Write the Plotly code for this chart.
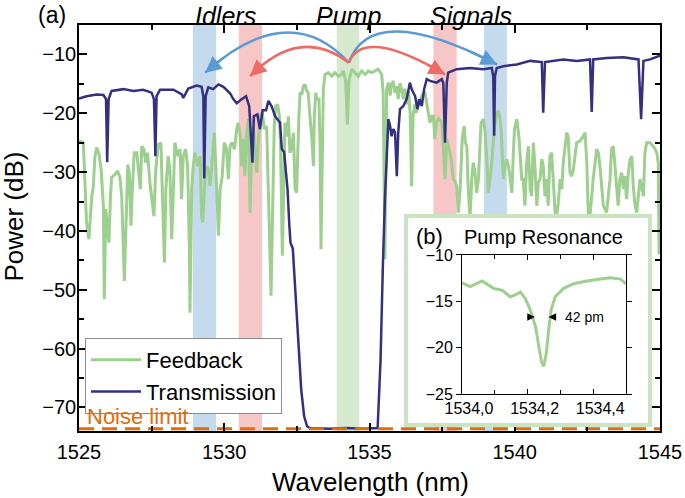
import plotly.graph_objects as go

# ---- (a) feedback spectrum ----
feedback_wl = [
    1525.00, 1525.15, 1525.26, 1525.34, 1525.44, 1525.49, 1525.55, 1525.61, 1525.69, 1525.76,
    1525.84, 1525.87, 1525.92, 1525.99, 1526.03, 1526.08, 1526.12, 1526.24, 1526.33, 1526.41,
    1526.47, 1526.56, 1526.61, 1526.68, 1526.73, 1526.79, 1526.84, 1526.90, 1526.99, 1527.04,
    1527.11, 1527.16, 1527.23, 1527.30, 1527.36, 1527.44, 1527.52, 1527.58, 1527.64, 1527.73,
    1527.82, 1527.88, 1527.94, 1527.99, 1528.07, 1528.13, 1528.19, 1528.25, 1528.30, 1528.40,
    1528.48, 1528.53, 1528.59, 1528.67, 1528.74, 1528.80, 1528.82, 1528.88, 1528.93, 1528.99,
    1529.09, 1529.17, 1529.22, 1529.26, 1529.31, 1529.36, 1529.45, 1529.51, 1529.57, 1529.66,
    1529.74, 1529.80, 1529.86, 1529.93, 1530.00, 1530.08, 1530.14, 1530.20, 1530.26, 1530.35,
    1530.43, 1530.48, 1530.54, 1530.60, 1530.66, 1530.71, 1530.77, 1530.83, 1530.89, 1530.94,
    1531.00, 1531.06, 1531.12, 1531.17, 1531.23, 1531.31, 1531.38, 1531.46, 1531.52, 1531.57,
    1531.61, 1531.65, 1531.72, 1531.77, 1531.84, 1531.90, 1531.94, 1532.00, 1532.05, 1532.09,
    1532.15, 1532.21, 1532.26, 1532.32, 1532.38, 1532.44, 1532.49, 1532.53, 1532.57, 1532.61,
    1532.67, 1532.72, 1532.78, 1532.84, 1532.89, 1532.95, 1533.01, 1533.07, 1533.10, 1533.15,
    1533.19, 1533.26, 1533.30, 1533.33, 1533.38, 1533.41, 1533.47, 1533.58, 1533.70, 1533.81,
    1533.93, 1534.04, 1534.10, 1534.18, 1534.24, 1534.29, 1534.39, 1534.50, 1534.61, 1534.73,
    1534.85, 1534.96, 1535.08, 1535.19, 1535.30, 1535.42, 1535.47, 1535.50, 1535.53, 1535.56,
    1535.59, 1535.65, 1535.71, 1535.76, 1535.82, 1535.88, 1535.94, 1535.99, 1536.05, 1536.11,
    1536.16, 1536.22, 1536.28, 1536.34, 1536.40, 1536.45, 1536.50, 1536.56, 1536.62, 1536.68,
    1536.74, 1536.80, 1536.86, 1536.91, 1536.97, 1537.02, 1537.08, 1537.14, 1537.20, 1537.25,
    1537.31, 1537.37, 1537.43, 1537.49, 1537.54, 1537.60, 1537.66, 1537.72, 1537.77, 1537.83,
    1537.88, 1537.94, 1538.00, 1538.06, 1538.12, 1538.19, 1538.26, 1538.30, 1538.35, 1538.40,
    1538.46, 1538.52, 1538.57, 1538.63, 1538.69, 1538.75, 1538.80, 1538.84, 1538.92, 1538.98,
    1539.04, 1539.09, 1539.15, 1539.21, 1539.26, 1539.30, 1539.38, 1539.43, 1539.48, 1539.53,
    1539.61, 1539.66, 1539.72, 1539.78, 1539.84, 1539.90, 1539.95, 1539.99, 1540.07, 1540.15,
    1540.24, 1540.29, 1540.35, 1540.41, 1540.47, 1540.53, 1540.58, 1540.64, 1540.70, 1540.76,
    1540.81, 1540.87, 1540.93, 1540.98, 1541.04, 1541.10, 1541.15, 1541.21, 1541.27, 1541.33,
    1541.39, 1541.44, 1541.50, 1541.56, 1541.62, 1541.67, 1541.73, 1541.79, 1541.84, 1541.90,
    1541.96, 1542.02, 1542.13, 1542.25, 1542.36, 1542.42, 1542.48, 1542.53, 1542.59, 1542.70,
    1542.82, 1542.88, 1542.93, 1542.99, 1543.05, 1543.16, 1543.28, 1543.33, 1543.39, 1543.45,
    1543.51, 1543.56, 1543.62, 1543.68, 1543.74, 1543.79, 1543.85, 1543.91, 1543.97, 1544.03,
    1544.08, 1544.14, 1544.20, 1544.31, 1544.43, 1544.48, 1544.54, 1544.66, 1544.71, 1544.77,
    1544.83, 1544.89, 1544.94, 1544.97, 1545.00,
]
feedback_db = [
    -24.7, -25.0, -38.6, -41.4, -34.1, -32.6, -27.3, -25.8, -27.0, -29.5,
    -35.8, -51.6, -36.3, -39.7, -42.0, -34.6, -30.9, -30.4, -29.8, -30.9,
    -34.1, -48.5, -41.4, -28.7, -30.1, -39.1, -32.4, -26.7, -26.7, -29.0,
    -32.9, -25.6, -26.1, -28.4, -26.7, -31.8, -35.2, -37.5, -29.8, -25.3,
    -25.0, -35.8, -45.4, -32.9, -27.3, -29.8, -41.4, -32.9, -25.0, -27.3,
    -26.1, -34.6, -27.3, -26.1, -29.0, -43.1, -53.9, -32.9, -29.0, -26.7,
    -29.0, -27.3, -37.5, -38.5, -32.9, -29.0, -29.5, -32.4, -29.0, -23.3,
    -32.9, -40.8, -32.9, -30.7, -25.0, -26.1, -31.2, -25.6, -25.0, -26.1,
    -22.7, -21.6, -23.3, -29.0, -24.4, -30.7, -23.3, -21.0, -36.9, -26.1,
    -22.2, -26.7, -30.1, -25.0, -20.5, -19.9, -22.7, -22.2, -31.8, -43.1,
    -51.0, -37.5, -22.2, -18.8, -18.5, -20.5, -26.1, -44.2, -29.0, -21.6,
    -23.9, -20.5, -26.7, -26.1, -23.3, -32.9, -33.5, -26.1, -20.5, -16.5,
    -16.8, -15.4, -15.1, -16.2, -16.5, -20.5, -23.9, -29.0, -20.5, -16.5,
    -17.6, -17.6, -26.1, -43.1, -26.1, -15.9, -13.4, -13.1, -13.7, -13.1,
    -13.7, -13.4, -12.8, -14.5, -21.9, -14.5, -12.5, -13.1, -13.7, -12.8,
    -13.4, -12.8, -13.1, -12.8, -12.5, -13.4, -16.5, -30.0, -44.8, -30.0,
    -16.0, -14.8, -17.0, -15.0, -14.5, -16.5, -15.4, -17.6, -14.9, -16.0,
    -17.6, -15.8, -18.5, -16.2, -20.0, -32.4, -20.5, -18.5, -19.9, -18.0,
    -18.2, -17.0, -16.5, -16.5, -18.5, -19.3, -21.6, -20.5, -20.5, -24.4,
    -21.5, -20.9, -21.2, -21.5, -25.6, -31.2, -24.4, -25.5, -26.7, -28.5,
    -31.2, -31.5, -32.4, -36.9, -32.9, -24.4, -22.2, -25.0, -25.6, -32.9,
    -38.0, -31.2, -28.4, -30.0, -33.5, -31.2, -25.0, -21.6, -21.0, -23.3,
    -28.0, -33.5, -31.0, -28.4, -25.0, -22.7, -19.9, -19.6, -20.5, -22.7,
    -31.2, -29.0, -27.8, -28.9, -31.0, -33.5, -27.0, -22.7, -21.0, -24.4,
    -31.2, -31.2, -35.7, -28.4, -25.6, -32.9, -34.1, -25.0, -29.5, -35.7,
    -31.8, -31.2, -27.8, -28.9, -34.1, -31.2, -35.7, -27.3, -26.7, -31.2,
    -36.9, -37.5, -35.2, -31.2, -32.9, -28.4, -25.6, -23.3, -23.9, -30.1,
    -30.7, -29.5, -25.0, -24.7, -23.9, -23.3, -28.4, -36.9, -37.5, -31.2,
    -26.1, -26.7, -28.9, -32.9, -35.7, -36.9, -31.2, -26.1, -25.6, -28.9,
    -32.9, -35.7, -31.2, -30.1, -32.9, -30.7, -34.6, -30.1, -27.8, -27.3,
    -32.4, -35.7, -36.9, -31.2, -34.1, -26.7, -25.0, -25.0, -25.3, -25.6,
    -26.1, -26.7, -28.4, -44.0, -38.0,
]

# ---- (a) transmission spectrum ----
trans_wl = [
    1525.00, 1525.26, 1525.61, 1525.84, 1525.93, 1525.97, 1526.02, 1526.12, 1526.53, 1526.87,
    1527.21, 1527.50, 1527.58, 1527.63, 1527.67, 1527.79, 1528.25, 1528.54, 1528.59, 1528.76,
    1529.05, 1529.22, 1529.28, 1529.31, 1529.36, 1529.45, 1529.62, 1529.80, 1529.97, 1530.20,
    1530.31, 1530.43, 1530.60, 1530.75, 1530.86, 1530.97, 1531.02, 1531.14, 1531.23, 1531.32,
    1531.44, 1531.52, 1531.63, 1531.75, 1531.92, 1531.98, 1532.06, 1532.12, 1532.18, 1532.24,
    1532.28, 1532.36, 1532.46, 1532.55, 1532.65, 1532.75, 1532.85, 1532.95, 1533.60, 1534.20,
    1534.80, 1535.28, 1535.38, 1535.46, 1535.53, 1535.65, 1535.71, 1535.76, 1535.82, 1535.88,
    1535.94, 1535.99, 1536.05, 1536.16, 1536.28, 1536.39, 1536.45, 1536.57, 1536.65, 1536.72,
    1536.80, 1536.88, 1536.97, 1537.08, 1537.31, 1537.49, 1537.54, 1537.60, 1537.66, 1537.71,
    1538.00, 1538.46, 1538.92, 1539.21, 1539.26, 1539.29, 1539.32, 1539.38, 1539.61, 1540.07,
    1540.53, 1540.93, 1540.98, 1541.04, 1541.67, 1542.13, 1542.59, 1542.65, 1542.70, 1543.16,
    1543.74, 1544.26, 1544.35, 1544.43, 1544.66, 1545.00,
]
trans_db = [
    -17.5, -17.1, -16.8, -16.9, -17.6, -28.3, -17.6, -16.2, -15.9, -16.2,
    -16.0, -16.5, -17.6, -27.3, -17.1, -16.0, -16.0, -16.8, -17.4, -15.8,
    -15.3, -15.5, -17.1, -31.1, -17.1, -15.6, -15.9, -15.1, -15.5, -16.6,
    -17.6, -18.3, -17.6, -17.1, -18.8, -28.4, -20.5, -20.2, -22.7, -19.5,
    -19.5, -17.9, -18.8, -20.5, -21.6, -26.1, -26.6, -29.5, -33.0, -39.0,
    -42.0, -43.0, -51.0, -60.0, -67.0, -71.5, -73.2, -73.5, -73.6, -73.5,
    -73.6, -73.5, -62.0, -46.0, -34.6, -21.0, -22.2, -23.9, -22.7, -23.3,
    -30.7, -23.3, -19.3, -18.8, -17.6, -14.8, -15.9, -17.1, -19.3, -17.6,
    -18.8, -15.9, -14.2, -14.5, -14.8, -14.2, -14.8, -25.0, -14.8, -13.1,
    -12.5, -12.3, -12.5, -12.3, -13.7, -23.8, -13.7, -12.3, -12.0, -11.7,
    -11.1, -11.3, -19.9, -11.3, -10.85, -11.1, -10.85, -19.8, -10.85, -10.6,
    -10.5, -10.85, -21.0, -11.1, -10.85, -10.2,
]

noise_limit_db = -73.6

# wavelength windows of the shaded bands
idler_blue = (1528.92, 1529.72)
idler_red = (1530.50, 1531.30)
pump_band = (1533.87, 1534.65)
signal_red = (1537.20, 1538.00)
signal_blue = (1538.94, 1539.73)

# curved arrows: start (pump), top of the arc, end
pump_point = (1534.29, -11.4)
arc_blue_idler = ((1532.02, -6.3), (1529.34, -13.1))
arc_red_idler = ((1532.60, -8.8), (1530.89, -13.7))
arc_red_signal = ((1535.36, -8.8), (1537.60, -13.4))
arc_blue_signal = ((1535.95, -6.1), (1539.39, -11.7))

# ---- (b) pump resonance ----
inset_wl = [
    1534.000, 1534.025, 1534.061, 1534.096, 1534.122, 1534.147, 1534.163, 1534.178, 1534.193,
    1534.208, 1534.224, 1534.234, 1534.242, 1534.249, 1534.257, 1534.264, 1534.272, 1534.284,
    1534.310, 1534.340, 1534.381, 1534.422, 1534.452, 1534.483, 1534.500,
]
inset_db = [
    -13.0, -13.4, -12.8, -13.6, -13.8, -14.5, -14.3, -14.0, -14.7,
    -15.9, -17.7, -19.9, -21.5, -22.0, -20.6, -18.1, -15.9, -14.5,
    -13.6, -13.1, -12.8, -12.6, -12.45, -12.6, -13.1,
]
fwhm_edges = (1534.222, 1534.264)
fwhm_level = -16.7

GREEN = '#9dcf8e'
NAVY = '#333080'
ORANGE = '#e36c0a'
BLUE_ARROW = '#5b9bd5'
RED_ARROW = '#ec6b66'
BOX_GREEN = '#c8e4c1'
FONT = 'Liberation Sans, Arial, sans-serif'


def arc(start, peak, end, color):
    # quadratic bezier whose midpoint passes through the peak
    cx = 2 * peak[0] - 0.5 * (start[0] + end[0])
    cy = 2 * peak[1] - 0.5 * (start[1] + end[1])
    path = 'M {},{} Q {},{} {},{}'.format(start[0], start[1], cx, cy, end[0], end[1])
    shape = dict(type='path', path=path, xref='x', yref='y', layer='above',
                 line=dict(color=color, width=2.5))
    t = 0.88
    tx = (1 - t) ** 2 * start[0] + 2 * t * (1 - t) * cx + t ** 2 * end[0]
    ty = (1 - t) ** 2 * start[1] + 2 * t * (1 - t) * cy + t ** 2 * end[1]
    head = dict(x=end[0], y=end[1], ax=tx, ay=ty, xref='x', yref='y', axref='x', ayref='y',
                text='', showarrow=True, arrowhead=2, arrowsize=1.3, arrowwidth=2.5,
                arrowcolor=color)
    return shape, head


def label(text, x, y, size, xref='paper', yref='paper', **kw):
    d = dict(text=text, x=x, y=y, xref=xref, yref=yref, xanchor='center', yanchor='middle',
             showarrow=False, font=dict(family=FONT, size=size, color=kw.pop('color', 'black')))
    d.update(kw)
    return d


def main():
    fig = go.Figure()
    fig.add_trace(go.Scatter(x=feedback_wl, y=feedback_db, mode='lines', name='Feedback',
                             line=dict(color=GREEN, width=3)))
    fig.add_trace(go.Scatter(x=trans_wl, y=trans_db, mode='lines', name='Transmission',
                             line=dict(color=NAVY, width=2.5)))
    fig.add_trace(go.Scatter(x=[1525, 1545], y=[noise_limit_db, noise_limit_db], mode='lines',
                             showlegend=False, line=dict(color=ORANGE, width=3, dash='15px,8px')))
    # empty subplot that only gives the inset its white frame
    fig.add_trace(go.Scatter(x=[None], y=[None], xaxis='x2', yaxis='y2', showlegend=False,
                             hoverinfo='skip'))
    fig.add_trace(go.Scatter(x=inset_wl, y=inset_db, mode='lines', xaxis='x3', yaxis='y3',
                             showlegend=False, line=dict(color=GREEN, width=3)))

    shapes = []
    for (x0, x1), col in [(idler_blue, '#c5daec'), (idler_red, '#f6c7c6'), (pump_band, '#d6e9d0'),
                          (signal_red, '#f6c7c6'), (signal_blue, '#c5daec')]:
        shapes.append(dict(type='rect', xref='x', yref='y', x0=x0, x1=x1, y0=-74, y1=-5,
                           fillcolor=col, line=dict(width=0), layer='below'))

    annotations = []
    for (peak, end), col in [(arc_blue_idler, BLUE_ARROW), (arc_blue_signal, BLUE_ARROW),
                             (arc_red_idler, RED_ARROW), (arc_red_signal, RED_ARROW)]:
        s, h = arc(pump_point, peak, end, col)
        shapes.append(s)
        annotations.append(h)

    top = 1.0606
    annotations += [
        label('(a)', -0.0465, 1.025, 23),
        label('<i>Idlers</i>', 1530.03, top, 25, xref='x', yanchor='top'),
        label('<i>Pump</i>', 1534.26, top, 25, xref='x', yanchor='top'),
        label('<i>Signals</i>', 1538.49, top, 25, xref='x', yanchor='top'),
        label('Noise limit', 1525.2, -71.6, 22, xref='x', yref='y', xanchor='left', color=ORANGE),
        label('Wavelength (nm)', 0.5009, -0.1256, 26),
        label('Power (dB)', -0.1119, 0.528, 26, textangle=-90),
        label('(b)', 0.604, 0.478, 22),
        label('Pump Resonance', 0.7995, 0.478, 20),
        label('42 pm', 1534.309, fwhm_level, 14, xref='x3', yref='y3', xanchor='left'),
        dict(text='', x=fwhm_edges[0], y=fwhm_level, xref='x3', yref='y3', ax=-9, ay=0,
             showarrow=True, arrowhead=2, arrowsize=1, arrowwidth=1.5, arrowcolor='black'),
        dict(text='', x=fwhm_edges[1], y=fwhm_level, xref='x3', yref='y3', ax=9, ay=0,
             showarrow=True, arrowhead=2, arrowsize=1, arrowwidth=1.5, arrowcolor='black'),
    ]

    axis_common = dict(showline=True, linecolor='black', linewidth=1.5, mirror='ticks',
                       showgrid=False, zeroline=False, ticks='inside', ticklen=8, tickwidth=1.5,
                       tickcolor='black', tickfont=dict(family=FONT, size=20), automargin=False)
    frame = dict(range=[0, 1], showline=True, linecolor=BOX_GREEN, linewidth=4, mirror=True,
                 showgrid=False, zeroline=False, showticklabels=False, ticks='', fixedrange=True,
                 automargin=False)
    inset_common = dict(showline=True, linecolor='black', linewidth=1, mirror='ticks',
                        showgrid=False, zeroline=False, tickwidth=1, tickcolor='black',
                        tickfont=dict(family=FONT, size=16), automargin=False)

    fig.update_layout(
        template='none',
        width=685, height=498,
        margin=dict(l=79, r=25, t=25, b=67),
        paper_bgcolor='white', plot_bgcolor='white',
        font=dict(family=FONT, color='black'),
        separators=', ',
        xaxis=dict(range=[1525, 1545], tick0=1525, dtick=5, ticklabelstandoff=2,
                   minor=dict(dtick=2.5, ticks='inside', ticklen=5, tickwidth=1.5, tickcolor='black'),
                   **axis_common),
        yaxis=dict(range=[-74, -5], tick0=-10, dtick=10, ticklabelstandoff=-3,
                   minor=dict(dtick=5, ticks='inside', ticklen=5, tickwidth=1.5, tickcolor='black'),
                   **axis_common),
        xaxis2=dict(domain=[0.5663, 0.9793], anchor='y2', **frame),
        yaxis2=dict(domain=[0.0197, 0.5246], anchor='x2', **frame),
        xaxis3=dict(domain=[0.6592, 0.9415], anchor='y3', range=[1534.0, 1534.5], tick0=1534,
                    dtick=0.2, tickformat='.1f', ticks='inside', ticklen=5, ticklabelshift=7,
                    minor=dict(dtick=0.1, ticks='inside', ticklen=4, tickwidth=1, tickcolor='black'),
                    **inset_common),
        yaxis3=dict(domain=[0.0911, 0.4335], anchor='x3', range=[-25, -10], dtick=5,
                    ticks='outside', ticklen=5, **inset_common),
        legend=dict(x=0.0103, y=0.229, xanchor='left', yanchor='top', bgcolor='white',
                    bordercolor='#8c8c8c', borderwidth=1, font=dict(family=FONT, size=22),
                    tracegroupgap=0, itemwidth=50),
        shapes=shapes,
        annotations=annotations,
        showlegend=True,
    )
    fig.write_html('out.html', config={'displayModeBar': False},
                   post_script="document.body.style.margin='0px';")


if __name__ == '__main__':
    main()
